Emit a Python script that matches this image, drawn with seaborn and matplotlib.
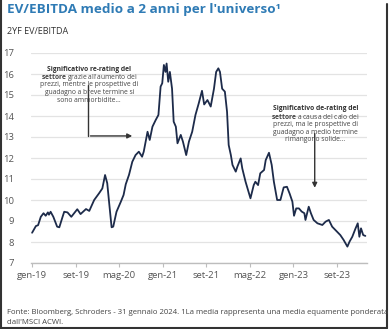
import matplotlib
matplotlib.use("Agg")
import matplotlib.pyplot as plt
import seaborn as sns
import pandas as pd
from matplotlib.lines import Line2D

# ---- data (months since Jan 2019, 2YF EV/EBITDA) ----
months = [0, 0.7, 1.1, 1.6, 2.1, 2.5, 2.9, 3.1, 3.4, 3.9, 4.6, 5.0, 5.6, 5.9, 6.5, 7.2,
          8.3, 8.9, 9.9, 10.5, 11.4, 12.3, 12.9, 13.4, 13.8, 14.1, 14.6, 14.9, 15.5, 16.3,
          16.8, 17.2, 17.8, 18.4, 19.0, 19.6, 20.2, 20.5, 21.2, 21.6, 22.1, 22.7, 23.2,
          23.6, 23.9, 24.2, 24.5, 24.7, 25.0, 25.3, 25.7, 26.0, 26.4, 26.7, 27.3, 27.7,
          28.3, 28.8, 29.4, 30.0, 30.6, 31.2, 31.6, 32.2, 32.8, 33.4, 33.8, 34.2, 34.5,
          34.9, 35.4, 35.8, 36.1, 36.5, 36.8, 37.4, 37.7, 38.3, 38.6, 39.2, 40.1, 40.7,
          41.0, 41.5, 41.9, 42.6, 42.9, 43.5, 44.0, 44.4, 45.0, 45.6, 46.2, 46.8, 47.3,
          47.8, 48.1, 48.5, 49.0, 49.5, 50.0, 50.2, 50.8, 51.2, 51.7, 52.4, 53.3, 53.9,
          54.5, 55.1, 56.0, 56.6, 57.2, 57.9, 58.3, 58.8, 59.4, 59.8, 60.1, 60.4, 60.8, 61.2]
values = [8.44, 8.76, 8.8, 9.2, 9.37, 9.25, 9.41, 9.3, 9.44, 9.2, 8.73, 8.7, 9.2, 9.44, 9.41, 9.2,
          9.56, 9.33, 9.57, 9.48, 10.0, 10.32, 10.55, 11.19, 10.8, 10.0, 8.7, 8.73, 9.44, 9.92,
          10.24, 10.75, 11.2, 11.82, 12.14, 12.3, 12.06, 12.3, 13.25, 12.86, 13.49, 13.81, 14.05,
          15.4, 15.56, 16.43, 16.1, 16.5, 15.63, 16.1, 15.3, 13.73, 13.49, 12.7, 13.1, 12.78,
          12.14, 12.78, 13.25, 14.05, 14.6, 15.2, 14.55, 14.76, 14.45, 15.3, 16.1, 16.27, 16.1,
          15.3, 15.16, 14.2, 12.62, 12.14, 11.67, 11.35, 11.59, 11.98, 11.5, 10.87, 10.08, 10.71,
          10.87, 10.71, 11.27, 11.43, 11.9, 12.25, 11.67, 10.87, 10.0, 10.0, 10.6, 10.63, 10.3,
          9.92, 9.25, 9.6, 9.6, 9.45, 9.37, 9.05, 9.68, 9.37, 9.05, 8.89, 8.81, 8.97,
          9.05, 8.73, 8.49, 8.33, 8.1, 7.78, 8.02, 8.25, 8.65, 8.89, 8.25, 8.65, 8.33, 8.29]
tick_months = [0, 8, 16, 24, 32, 40, 48, 56]
tick_labels = ["gen-19", "set-19", "mag-20", "gen-21", "set-21", "mag-22", "gen-23", "set-23"]
y_ticks = [7, 8, 9, 10, 11, 12, 13, 14, 15, 16, 17]

df = pd.DataFrame({"month": months, "value": values})

sns.set_theme(style="white")
plt.rcParams['font.family'] = ['Open Sans', 'DejaVu Sans']
plt.rcParams['mathtext.fontset'] = 'custom'
plt.rcParams['mathtext.rm'] = 'Open Sans'
plt.rcParams['mathtext.bf'] = 'Open Sans:bold'

fig = plt.figure(figsize=(3.9, 3.29), dpi=100)
ax = fig.add_axes([31/390, 1 - 263/329, (367 - 31)/390, (263 - 53)/329])

sns.lineplot(data=df, x="month", y="value", ax=ax, color="#1d2b4a", linewidth=1.3)

ax.set_xlim(-0.2, 61.5)
ax.set_ylim(7, 17)
ax.set_yticks(y_ticks)
ax.set_yticklabels([str(t) for t in y_ticks])
ax.set_xticks(tick_months)
ax.set_xticklabels(tick_labels)
ax.set_xlabel("")
ax.set_ylabel("")
ax.grid(axis="y", color="#e3e3e3", linewidth=0.9)
ax.set_axisbelow(True)
for s in ["top", "right", "left"]:
    ax.spines[s].set_visible(False)
ax.spines["bottom"].set_color("#bdbdbd")
ax.spines["bottom"].set_linewidth(1.0)
ax.tick_params(axis="x", bottom=True, length=3, width=0.8, color="#bdbdbd",
               labelsize=6.8, labelcolor="#555555", pad=3)
ax.tick_params(axis="y", left=False, labelsize=6.8, labelcolor="#555555", pad=6)

fs = 4.9
step = 0.37

# annotation 1
ax.add_line(Line2D([10.3, 10.3], [15.5, 13.05], color="#333333", lw=1.0))
ax.annotate("", xy=(18.9, 13.05), xytext=(10.2, 13.05),
            arrowprops=dict(arrowstyle="-|>", color="#333333", lw=1.0, mutation_scale=7))
tx1, ty1 = 10.5, 16.22
ax.text(tx1, ty1, "Significativo re-rating del", ha="center", va="center",
        fontsize=fs, fontweight="bold", color="#333333")
ax.text(tx1, ty1 - step, r"$\bf{settore}$ grazie all'aumento dei", ha="center", va="center",
        fontsize=fs, color="#444444")
ax.text(tx1, ty1 - 2 * step, "prezzi, mentre le prospettive di", ha="center", va="center",
        fontsize=fs, color="#444444")
ax.text(tx1, ty1 - 3 * step, "guadagno a breve termine si", ha="center", va="center",
        fontsize=fs, color="#444444")
ax.text(tx1, ty1 - 4 * step, "sono ammorbidite...", ha="center", va="center",
        fontsize=fs, color="#444444")

# annotation 2
ax.annotate("", xy=(51.9, 10.45), xytext=(51.9, 13.3),
            arrowprops=dict(arrowstyle="-|>", color="#333333", lw=1.0, mutation_scale=7))
tx2, ty2 = 52.0, 14.34
ax.text(tx2, ty2, "Significativo de-rating del", ha="center", va="center",
        fontsize=fs, fontweight="bold", color="#333333")
ax.text(tx2, ty2 - step, r"$\bf{settore}$ a causa del calo dei", ha="center", va="center",
        fontsize=fs, color="#444444")
ax.text(tx2, ty2 - 2 * step, "prezzi, ma le prospettive di", ha="center", va="center",
        fontsize=fs, color="#444444")
ax.text(tx2, ty2 - 3 * step, "guadagno a medio termine", ha="center", va="center",
        fontsize=fs, color="#444444")
ax.text(tx2, ty2 - 4 * step, "rimangono solide...", ha="center", va="center",
        fontsize=fs, color="#444444")

# titles
fig.text(7/390, 1 - 10/329, "EV/EBITDA medio a 2 anni per l'universo\u00b9", ha="left", va="center",
         fontsize=9.7, fontweight="bold", color="#2f7bb5")
fig.text(7/390, 1 - 31/329, "2YF EV/EBITDA", ha="left", va="center",
         fontsize=6.5, color="#333333")

# footnote
fig.text(7/390, 1 - 313/329,
         "Fonte: Bloomberg, Schroders - 31 gennaio 2024. 1La media rappresenta una media equamente ponderata",
         ha="left", va="center", fontsize=5.6, color="#444444")
fig.text(7/390, 1 - 322/329, "dall'MSCI ACWI.", ha="left", va="center", fontsize=5.6, color="#444444")

# frame
fig.add_artist(Line2D([0.5/390, 0.5/390], [0, 1], transform=fig.transFigure, color="#333333", lw=1.5))
fig.add_artist(Line2D([387/390, 387/390], [1 - 328/329, 1 - 4/329], transform=fig.transFigure, color="#333333", lw=1.5))
fig.add_artist(Line2D([0, 387/390], [1 - 328/329, 1 - 328/329], transform=fig.transFigure, color="#333333", lw=1.5))

fig.savefig("out.png", dpi=100)
